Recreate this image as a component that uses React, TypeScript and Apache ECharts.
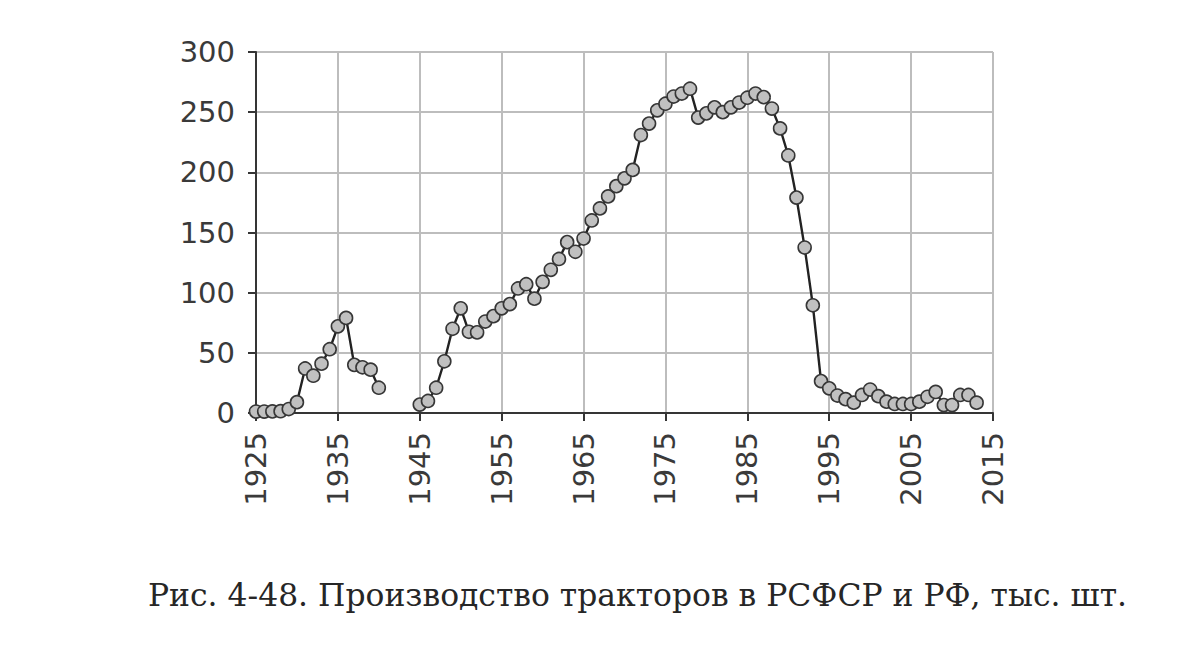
import React, { useEffect, useRef } from "react";
import * as echarts from "echarts";

const prewarStart = 1925;
const prewarValues = [1.2, 1.2, 1.3, 1.5, 3.3, 9, 37, 31, 41, 53, 72, 79, 40, 38, 36, 21];
const postwarStart = 1945;
const postwarValues = [
  7, 10, 21, 43, 70, 87, 67.5, 67, 76, 80.5,
  87, 90.5, 103.5, 107, 95, 109, 119, 128, 142, 134,
  145, 160, 170, 180, 188.5, 195, 202, 231, 240.5, 251.5,
  257, 263, 265.5, 269.5, 245.5, 249, 254, 250, 254, 258,
  262, 265.5, 262.5, 253, 236.5, 214, 179, 137.5, 89.5, 26.5,
  20.5, 14.5, 11.5, 8.6, 15, 19.5, 14, 9.4, 7.5, 7.5,
  7.5, 9.4, 13.5, 17.5, 6.6, 6.6, 15, 15, 8.6,
];
const yTicks = [0, 50, 100, 150, 200, 250, 300];
const xMin = 1925;
const xMax = 2015;
const caption = "Рис. 4-48. Производство тракторов в РСФСР и РФ, тыс. шт.";

function buildData(): (number | string)[][] {
  const out: (number | string)[][] = [];
  prewarValues.forEach((v, i) => out.push([prewarStart + i, v]));
  out.push([prewarStart + prewarValues.length, "-"]);
  postwarValues.forEach((v, i) => out.push([postwarStart + i, v]));
  return out;
}

export default function App() {
  const ref = useRef<HTMLDivElement>(null);
  useEffect(() => {
    document.body.style.margin = "0";
    const chart = echarts.init(ref.current!, null, { renderer: "svg" });
    const axisColor = "#353535";
    const gridColor = "#bdbdbd";
    const labelFont = "DejaVu Sans, Verdana, sans-serif";
    chart.setOption({
      animation: false,
      backgroundColor: "#ffffff",
      grid: { left: 256, right: 207, top: 52, bottom: 242, containLabel: false },
      xAxis: {
        type: "value",
        min: xMin,
        max: xMax,
        interval: 10,
        axisLine: { show: true, onZero: false, lineStyle: { color: axisColor, width: 2 } },
        axisTick: { show: true, length: 8, lineStyle: { color: axisColor, width: 2 } },
        axisLabel: {
          rotate: 90,
          margin: 19,
          color: "#3a3a3a",
          fontFamily: labelFont,
          fontSize: 29,
          formatter: (v: number) => String(v),
        },
        splitLine: { show: true, lineStyle: { color: gridColor, width: 2 } },
      },
      yAxis: {
        type: "value",
        min: yTicks[0],
        max: yTicks[yTicks.length - 1],
        interval: 50,
        axisLine: { show: true, lineStyle: { color: axisColor, width: 2 } },
        axisTick: { show: true, length: 8, lineStyle: { color: axisColor, width: 2 } },
        axisLabel: {
          margin: 21,
          color: "#3a3a3a",
          fontFamily: labelFont,
          fontSize: 29,
        },
        splitLine: { show: true, lineStyle: { color: gridColor, width: 2 } },
      },
      series: [
        {
          type: "line",
          data: buildData(),
          connectNulls: false,
          symbol: "circle",
          symbolSize: 13,
          showAllSymbol: true,
          lineStyle: { color: "#222222", width: 2.4 },
          itemStyle: { color: "#c0c0c0", borderColor: "#363636", borderWidth: 1.6 },
          z: 3,
        },
      ],
      graphic: [
        {
          type: "text",
          left: 148,
          top: 579,
          style: {
            text: caption,
            fontFamily: "DejaVu Serif, serif",
            fontSize: 31.4,
            fill: "#262626",
          },
        },
      ],
    });
    return () => chart.dispose();
  }, []);
  return (
    <div
      ref={ref}
      style={{ position: "absolute", left: 0, top: 0, width: 1200, height: 655 }}
    />
  );
}
